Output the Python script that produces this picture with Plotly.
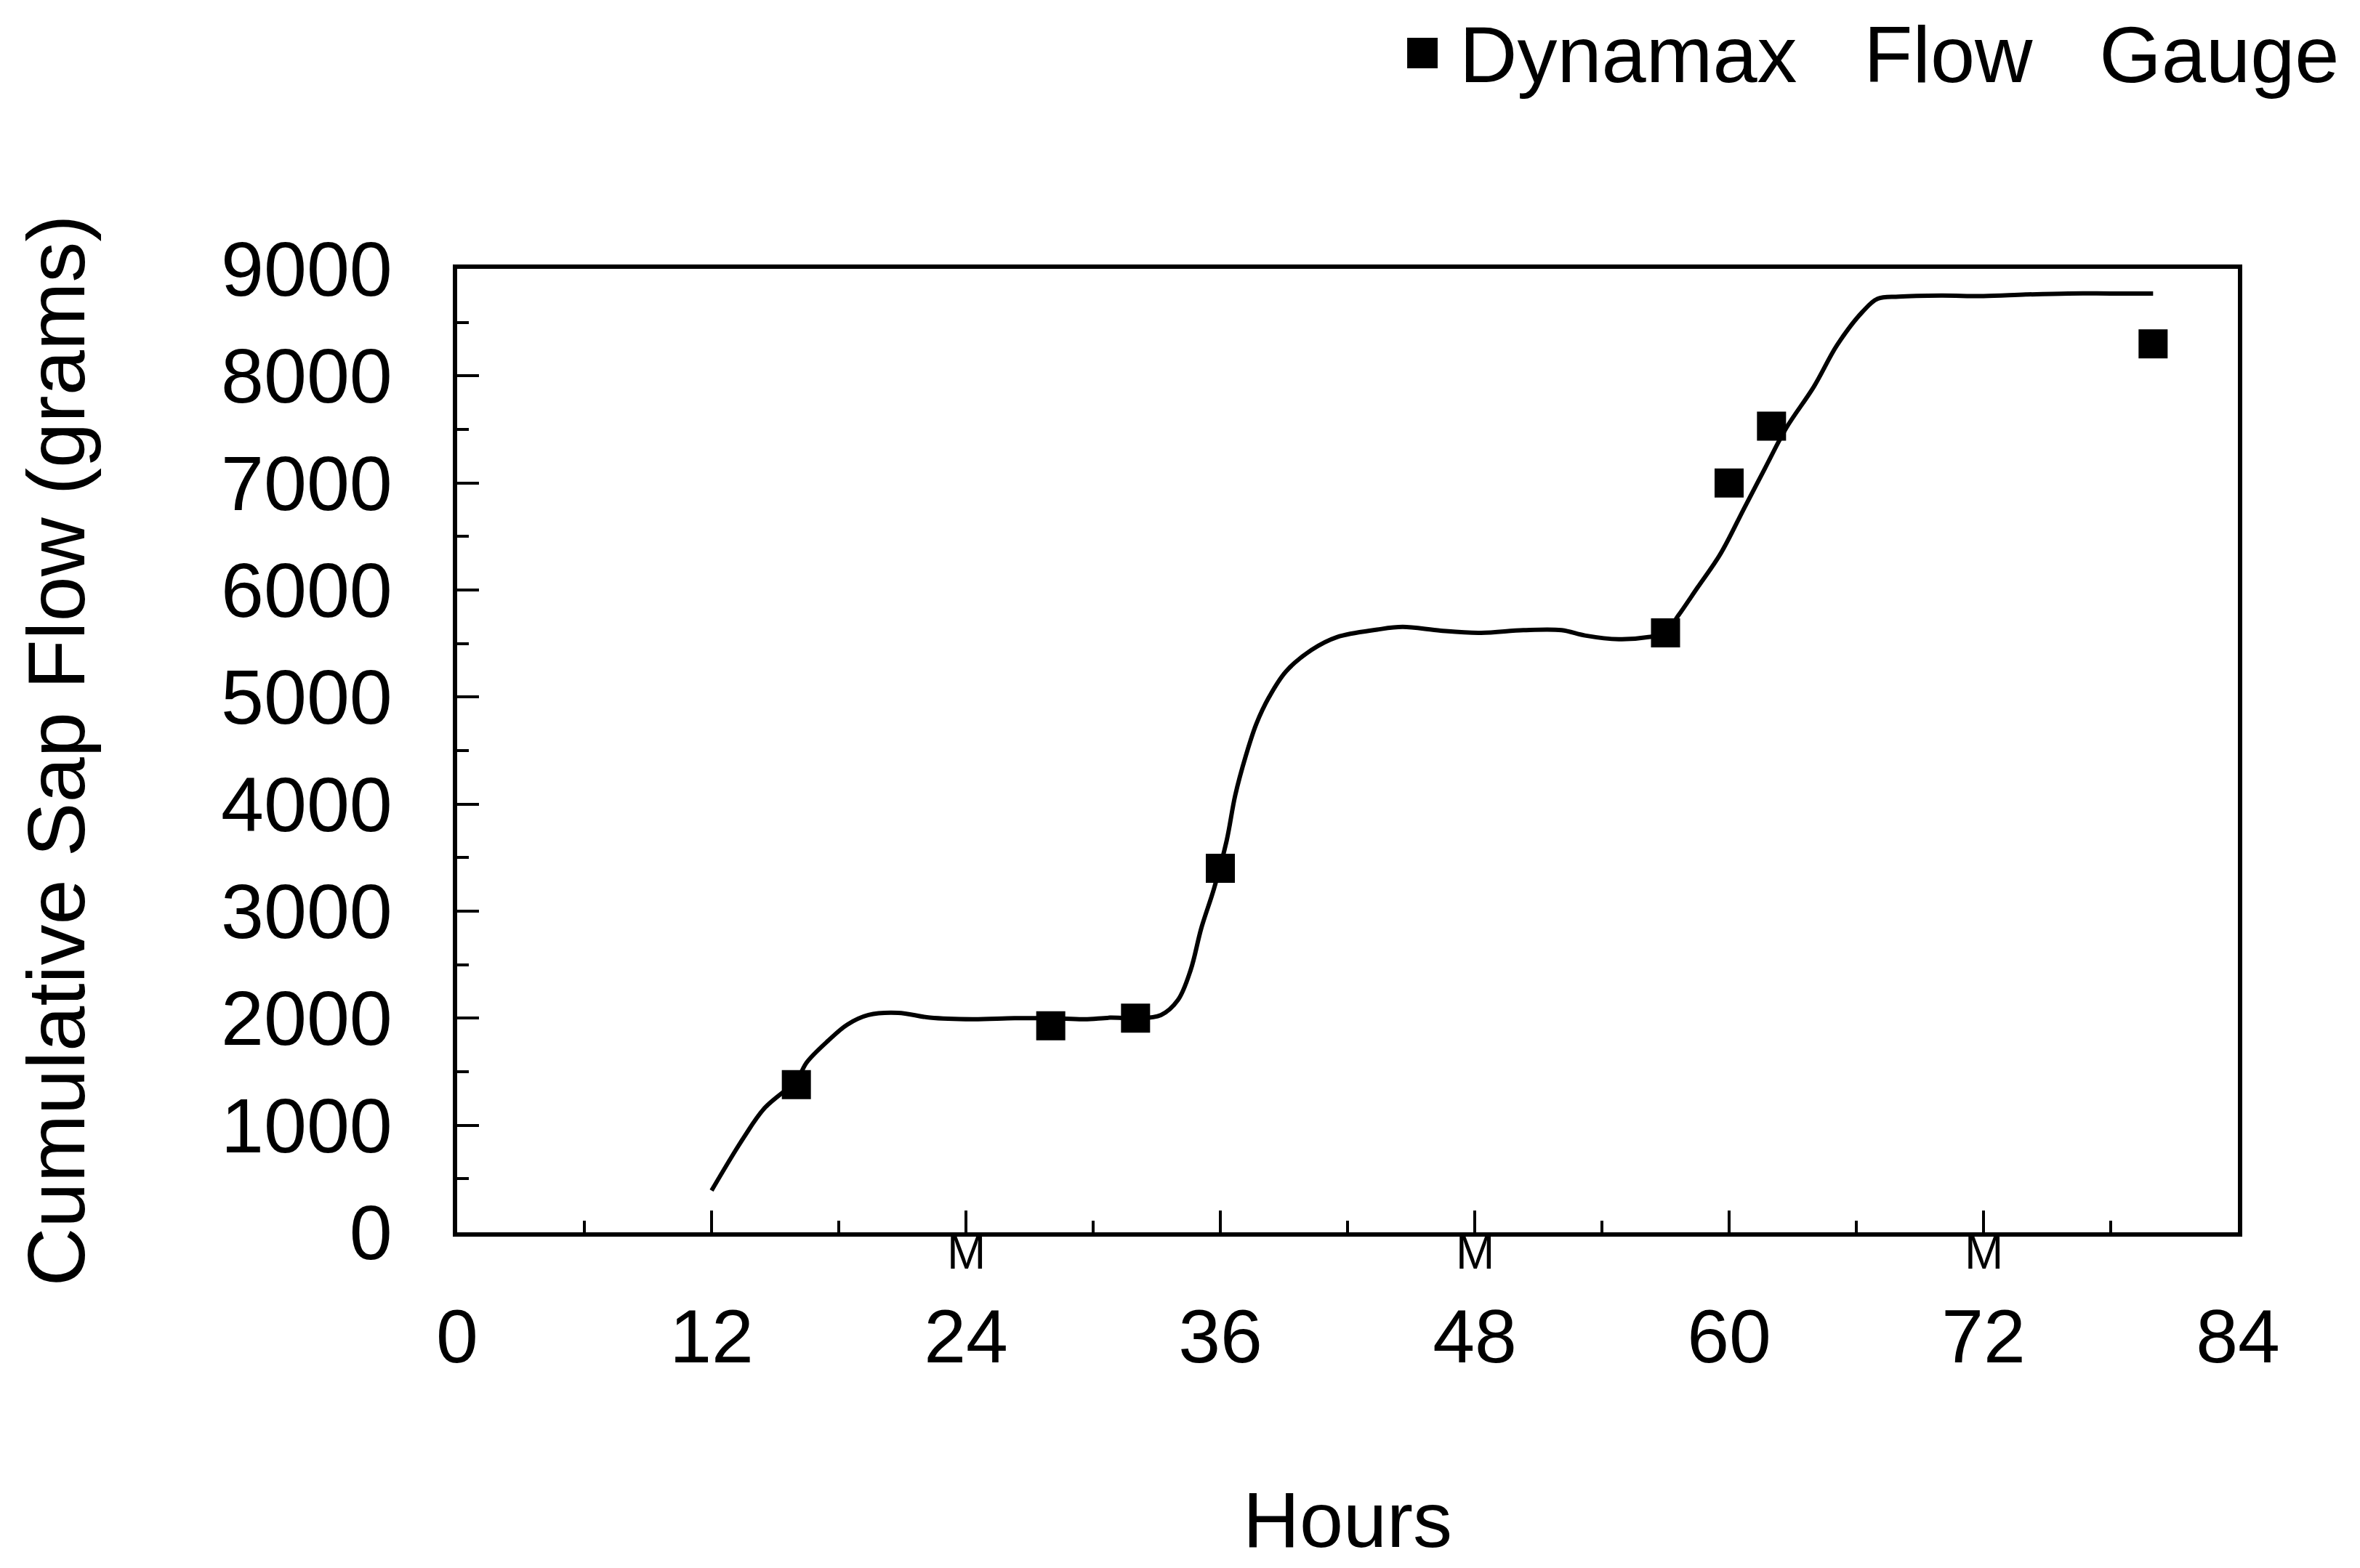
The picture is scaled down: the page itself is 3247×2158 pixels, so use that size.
import plotly.graph_objects as go

# Measured points (Dynamax Flow Gauge)
gauge_hours = [16, 28, 32, 36, 57, 60, 62, 80]
gauge_grams = [1380, 1930, 2000, 3400, 5600, 7000, 7530, 8300]

# Fitted cumulative curve
curve_hours = [12.0, 13.5, 14.5, 16.0, 16.5, 17.5, 18.4, 19.4, 20.8, 22.3, 24.3, 26.3,
               28.0, 29.6, 30.8, 32.0, 33.2, 34.0, 34.6, 35.1, 35.7, 36.3, 36.7, 37.2,
               37.7, 38.3, 39.1, 40.3, 41.5, 43.4, 44.6, 46.4, 48.3, 50.3, 52.1, 53.2,
               54.8, 56.2, 57.0, 57.6, 58.5, 59.6, 60.7, 61.7, 62.7, 64.0, 65.1, 66.3,
               67.0, 68.0, 70.0, 72.0, 74.0, 76.0, 78.0, 80.0]
curve_grams = [390, 880, 1160, 1420, 1590, 1790, 1940, 2030, 2050, 2005, 1990, 2000,
               2000, 1990, 2005, 2000, 2030, 2170, 2450, 2840, 3210, 3660, 4080, 4450,
               4750, 5000, 5240, 5440, 5560, 5630, 5655, 5620, 5600, 5625, 5625, 5575,
               5540, 5560, 5600, 5760, 6020, 6340, 6760, 7140, 7515, 7900, 8290, 8600,
               8720, 8740, 8750, 8745, 8760, 8770, 8770, 8770]

x_ticks = [0, 12, 24, 36, 48, 60, 72, 84]
y_ticks = [0, 1000, 2000, 3000, 4000, 5000, 6000, 7000, 8000, 9000]
midnight_hours = [24, 48, 72]
legend_label = "Dynamax\u00a0\u00a0\u00a0Flow\u00a0\u00a0\u00a0Gauge"

FONT = "Liberation Sans, Arial, sans-serif"

fig = go.Figure()
fig.add_trace(go.Scatter(
    x=curve_hours, y=curve_grams, mode="lines",
    line=dict(color="black", width=6, shape="spline", smoothing=1.0),
    showlegend=False, hoverinfo="skip"))
fig.add_trace(go.Scatter(
    x=gauge_hours, y=gauge_grams, mode="markers", name="Dynamax Flow Gauge",
    marker=dict(symbol="square", size=40, color="black", line=dict(width=0)),
    showlegend=False))

# midnight markers
for h in midnight_hours:
    fig.add_annotation(x=h, y=0, xref="x", yref="paper", text="M", showarrow=False,
                       yanchor="middle", yshift=-28,
                       font=dict(family=FONT, size=64, color="black"))

# manual legend (large symbol)
fig.add_shape(type="rect", xref="paper", yref="paper",
              x0=0.5335, x1=0.5506, y0=1.2081, y1=1.2398,
              fillcolor="black", line=dict(width=0))
fig.add_annotation(x=0.5620, y=1.2232, xref="paper", yref="paper", text=legend_label,
                   showarrow=False, xanchor="left", yanchor="middle",
                   font=dict(family=FONT, size=110, color="black"))

fig.update_layout(
    width=3247, height=2158,
    margin=dict(l=621, r=176, t=362, b=470, autoexpand=False),
    paper_bgcolor="white", plot_bgcolor="white",
    font=dict(family=FONT, color="black"),
    showlegend=False,
)
fig.update_xaxes(
    range=[0, 84], tickvals=x_ticks, ticktext=[str(v) for v in x_ticks],
    ticks="inside", ticklen=30, tickwidth=4, tickcolor="black",
    minor=dict(dtick=6, tick0=0, ticks="inside", ticklen=16, tickwidth=4, tickcolor="black"),
    showline=True, linewidth=6, linecolor="black", mirror=True,
    showgrid=False, zeroline=False,
    tickfont=dict(family=FONT, size=104, color="black"),
    ticklabelstandoff=48,
    title=dict(text="Hours", font=dict(family=FONT, size=108, color="black"), standoff=160),
)
fig.update_yaxes(
    range=[0, 9000], tickvals=y_ticks, ticktext=[str(v) for v in y_ticks],
    ticks="inside", ticklen=30, tickwidth=4, tickcolor="black",
    minor=dict(dtick=500, tick0=0, ticks="inside", ticklen=16, tickwidth=4, tickcolor="black"),
    showline=True, linewidth=6, linecolor="black", mirror=True,
    showgrid=False, zeroline=False,
    tickfont=dict(family=FONT, size=106, color="black"),
    ticklabelstandoff=62,
    title=dict(text="Cumulative Sap Flow (grams)", font=dict(family=FONT, size=112, color="black"), standoff=152),
)

fig.write_html("out.html")
